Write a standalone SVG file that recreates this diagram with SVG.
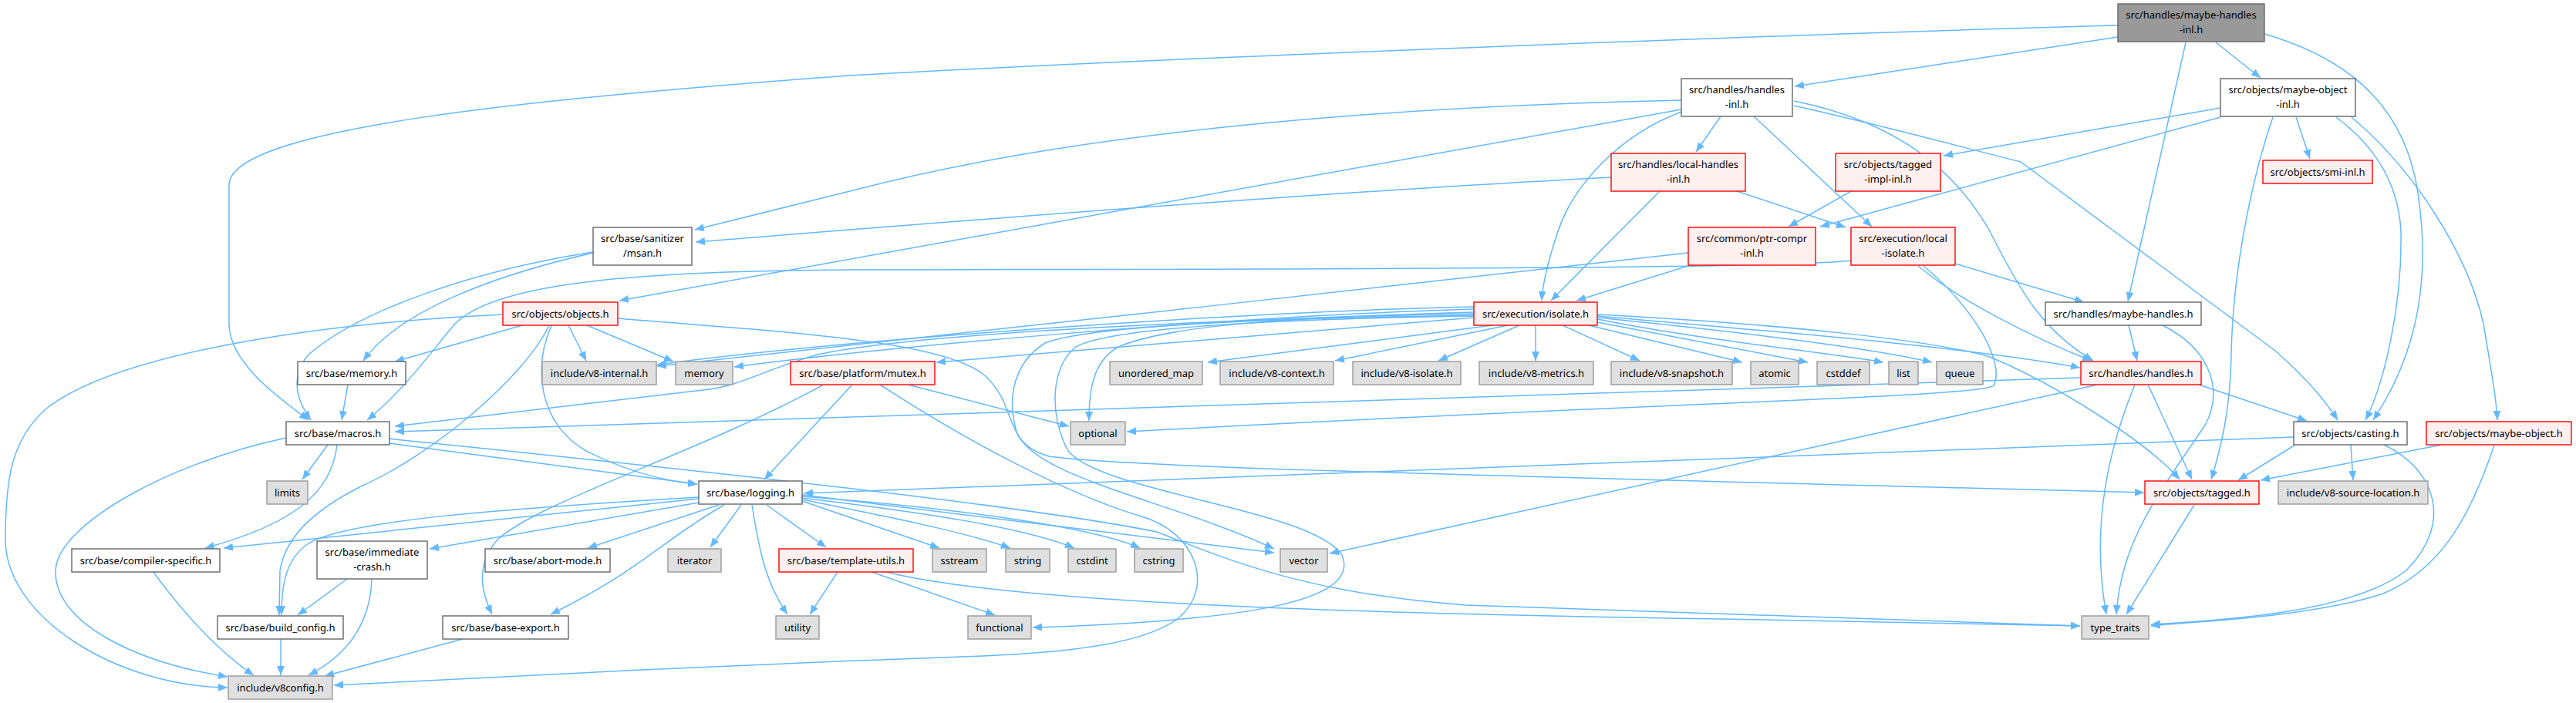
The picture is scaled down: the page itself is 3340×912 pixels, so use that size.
<svg xmlns="http://www.w3.org/2000/svg" width="3340" height="912" viewBox="0 0 3340 912">
<defs>
<marker id="ah" markerUnits="userSpaceOnUse" markerWidth="13" markerHeight="11" refX="12" refY="5" orient="auto">
<path d="M0,0 L12,5 L0,10 z" fill="#63B8FF"/>
</marker>
<style>
.e path{fill:none;stroke:#63B8FF;stroke-width:1.5;marker-end:url(#ah)}
rect{stroke-width:1.4}
.w{fill:#ffffff;stroke:#666666}
.r{fill:#FFF0F0;stroke:#FF0000}
.g{fill:#E0E0E0;stroke:#999999}
.root{fill:#999999;stroke:#666666}
text{font-family:"Noto Sans","DejaVu Sans",sans-serif;font-size:13px;fill:#000000;text-anchor:middle}
</style>
</defs>
<rect width="3340" height="912" fill="#ffffff"/>
<g id="edges" class="e">
<path d="M2746,48 L2327,112"/>
<path d="M2746,33 C2400,42 1500,75 1100,98 C700,128 297,165 297,240 L297,420 C297,470 360,515 400,545"/>
<path d="M2834,55 L2759,391"/>
<path d="M2873,55 L2931,101"/>
<path d="M2936,44 C3060,80 3120,150 3135,250 C3150,350 3140,450 3077,545"/>
<path d="M2180,130 C1800,138 1400,170 1110,246 C1030,266 960,283 901,298"/>
<path d="M2180,142 L803,390"/>
<path d="M2180,145 C2100,175 2040,240 2020,300 C2005,345 2000,370 1999,390"/>
<path d="M2231,151 L2199,197"/>
<path d="M2274,151 L2427,294"/>
<path d="M2326,131 C2470,160 2540,230 2580,300 C2620,380 2650,430 2714,468"/>
<path d="M2326,137 C2450,165 2540,190 2620,210 L2950,455 C2990,490 3015,520 3031,545"/>
<path d="M2879,140 L2520,202"/>
<path d="M2879,152 L2360,294"/>
<path d="M2977,152 L2995,206"/>
<path d="M2947,152 C2920,230 2895,350 2893,460 C2892,530 2880,580 2867,622"/>
<path d="M3029,152 C3080,190 3110,240 3113,300 C3115,400 3090,500 3067,545"/>
<path d="M3049,152 C3130,220 3200,330 3220,420 C3230,480 3237,520 3238,545"/>
<path d="M2089,230 C1700,250 1200,290 902,314"/>
<path d="M2249,247 L2393,295"/>
<path d="M2153,247 L2011,390"/>
<path d="M2402,247 L2319,294"/>
<path d="M2192,344 L2044,390"/>
<path d="M2189,328 C1800,370 1200,440 852,475"/>
<path d="M2400,338 C2300,350 1500,349 1100,350 C800,352 640,370 590,420 C560,455 525,505 476,545"/>
<path d="M2535,342 L2702,392"/>
<path d="M2487,345 C2540,390 2640,440 2712,468"/>
<path d="M2494,345 C2560,400 2600,470 2585,500 C2570,515 2200,520 1461,560"/>
<path d="M677,422 L512,469"/>
<path d="M712,422 C680,490 560,590 470,630 C400,665 370,700 363,740 L362,798"/>
<path d="M715,422 C690,480 700,550 760,585 C820,615 870,625 904,628"/>
<path d="M737,422 L760,468"/>
<path d="M761,422 L873,469"/>
<path d="M652,408 C400,420 150,460 60,530 C15,570 7,620 7,700 C7,800 150,890 295,892"/>
<path d="M801,413 C1000,430 1230,440 1280,490 C1320,530 1300,575 1360,592 C1450,605 1800,614 2780,639"/>
<path d="M769,328 C650,355 520,400 471,468"/>
<path d="M769,327 C620,350 470,400 400,460 C375,490 385,520 403,545"/>
<path d="M451,499 L443,545"/>
<path d="M1177,499 L1386,553"/>
<path d="M1105,499 L991,622"/>
<path d="M1068,499 C900,590 700,650 645,700 C615,735 625,770 638,797"/>
<path d="M1141,499 C1250,570 1380,640 1480,670 C1550,690 1575,760 1530,800 C1470,850 1300,850 1110,857 C900,865 600,880 433,889"/>
<path d="M1935,422 L1566,470"/>
<path d="M1955,422 L1731,468"/>
<path d="M1970,422 L1865,468"/>
<path d="M1991,422 L1991,468"/>
<path d="M2026,422 L2126,468"/>
<path d="M2060,422 L2259,470"/>
<path d="M2071,418 L2344,470"/>
<path d="M2071,414 C2200,440 2350,455 2442,470"/>
<path d="M2071,412 C2250,430 2420,450 2505,470"/>
<path d="M2071,410 C2300,430 2550,450 2697,477"/>
<path d="M2071,408 C2300,420 2500,440 2580,463 C2680,505 2790,580 2826,622"/>
<path d="M1911,412 L1214,470"/>
<path d="M1911,398 C1600,405 1100,440 852,473"/>
<path d="M1911,401 C1600,410 1150,450 952,476"/>
<path d="M1911,405 C1600,415 1200,430 1060,460 C990,480 960,500 920,505 L512,553"/>
<path d="M1911,407 C1700,410 1520,420 1450,450 C1415,470 1412,510 1412,546"/>
<path d="M1911,409 C1700,412 1420,420 1355,445 C1315,470 1305,515 1318,560 C1340,620 1520,650 1652,712"/>
<path d="M1911,410 C1650,414 1440,425 1395,450 C1362,475 1360,540 1385,585 C1430,640 1700,660 1740,720 C1765,780 1620,805 1339,814"/>
<path d="M2698,490 L512,560"/>
<path d="M2720,499 L1724,718"/>
<path d="M2851,499 L2991,546"/>
<path d="M2785,499 L2842,622"/>
<path d="M2768,499 C2735,580 2710,680 2731,797"/>
<path d="M2760,422 L2771,468"/>
<path d="M2804,422 C2860,450 2885,500 2860,550 C2800,640 2750,700 2744,797"/>
<path d="M425,577 L392,622"/>
<path d="M437,577 C430,640 380,680 266,711"/>
<path d="M504,575 L904,628"/>
<path d="M371,568 C220,600 75,680 72,740 C70,810 180,860 295,878"/>
<path d="M504,569 C800,600 1300,650 1500,690 C1600,730 1700,770 1900,785 L2697,812"/>
<path d="M2974,567 L1042,640"/>
<path d="M2976,577 L2902,623"/>
<path d="M3048,577 L3051,623"/>
<path d="M3091,577 C3160,610 3180,680 3120,740 C3050,795 2880,805 2789,810"/>
<path d="M3166,577 L2931,623"/>
<path d="M3234,577 C3200,680 3160,740 3090,770 C3000,800 2850,806 2789,812"/>
<path d="M2845,655 L2757,797"/>
<path d="M906,647 L290,711"/>
<path d="M906,645 C650,660 450,675 400,705 C370,725 365,760 365,798"/>
<path d="M906,652 L557,712"/>
<path d="M932,655 L762,711"/>
<path d="M939,655 C860,700 830,740 714,797"/>
<path d="M961,655 L921,710"/>
<path d="M975,655 C985,720 995,760 1021,797"/>
<path d="M994,655 L1071,710"/>
<path d="M1040,650 L1218,711"/>
<path d="M1040,648 C1150,670 1250,690 1310,711"/>
<path d="M1040,646 C1200,665 1330,685 1393,711"/>
<path d="M1040,644 C1250,660 1420,685 1478,711"/>
<path d="M1040,642 L1652,717"/>
<path d="M1086,742 L1050,797"/>
<path d="M1130,742 L1290,798"/>
<path d="M1149,742 C1300,780 1700,795 2230,803 L2697,812"/>
<path d="M199,742 C240,800 290,850 329,876"/>
<path d="M450,751 L386,798"/>
<path d="M482,751 C480,810 450,850 400,876"/>
<path d="M364,829 L364,876"/>
<path d="M600,829 L421,877"/>
</g>
<g id="n1"><rect class="root" x="2746" y="5" width="190" height="49"/><text x="2841" y="23.6">src/handles/maybe-handles</text><text x="2841" y="42.6">-inl.h</text></g>
<g id="n2"><rect class="w" x="2180" y="102" width="144" height="49"/><text x="2252" y="120.6">src/handles/handles</text><text x="2252" y="139.6">-inl.h</text></g>
<g id="n3"><rect class="w" x="2879" y="102" width="175" height="49"/><text x="2966.5" y="120.6">src/objects/maybe-object</text><text x="2966.5" y="139.6">-inl.h</text></g>
<g id="n4"><rect class="r" x="2089" y="199" width="174" height="49"/><text x="2176" y="217.6">src/handles/local-handles</text><text x="2176" y="236.6">-inl.h</text></g>
<g id="n5"><rect class="r" x="2380" y="199" width="136" height="49"/><text x="2448" y="217.6">src/objects/tagged</text><text x="2448" y="236.6">-impl-inl.h</text></g>
<g id="n6"><rect class="r" x="2934" y="208" width="142" height="30"/><text x="3005" y="227.5">src/objects/smi-inl.h</text></g>
<g id="n7"><rect class="w" x="769" y="295" width="128" height="49"/><text x="833" y="313.6">src/base/sanitizer</text><text x="833" y="332.6">/msan.h</text></g>
<g id="n8"><rect class="r" x="2189" y="295" width="165" height="49"/><text x="2271.5" y="313.6">src/common/ptr-compr</text><text x="2271.5" y="332.6">-inl.h</text></g>
<g id="n9"><rect class="r" x="2400" y="295" width="135" height="49"/><text x="2467.5" y="313.6">src/execution/local</text><text x="2467.5" y="332.6">-isolate.h</text></g>
<g id="n10"><rect class="r" x="652" y="392" width="149" height="30"/><text x="726.5" y="411.5">src/objects/objects.h</text></g>
<g id="n11"><rect class="r" x="1911" y="392" width="160" height="30"/><text x="1991" y="411.5">src/execution/isolate.h</text></g>
<g id="n12"><rect class="w" x="2652" y="392" width="202" height="30"/><text x="2753" y="411.5">src/handles/maybe-handles.h</text></g>
<g id="n13"><rect class="w" x="386" y="469" width="140" height="30"/><text x="456" y="488.5">src/base/memory.h</text></g>
<g id="n14"><rect class="g" x="703" y="469" width="148" height="30"/><text x="777" y="488.5">include/v8-internal.h</text></g>
<g id="n15"><rect class="g" x="876" y="469" width="74" height="30"/><text x="913" y="488.5">memory</text></g>
<g id="n16"><rect class="r" x="1025" y="469" width="187" height="30"/><text x="1118.5" y="488.5">src/base/platform/mutex.h</text></g>
<g id="n17"><rect class="g" x="1439" y="469" width="120" height="30"/><text x="1499" y="488.5">unordered_map</text></g>
<g id="n18"><rect class="g" x="1582" y="469" width="147" height="30"/><text x="1655.5" y="488.5">include/v8-context.h</text></g>
<g id="n19"><rect class="g" x="1754" y="469" width="140" height="30"/><text x="1824" y="488.5">include/v8-isolate.h</text></g>
<g id="n20"><rect class="g" x="1918" y="469" width="148" height="30"/><text x="1992" y="488.5">include/v8-metrics.h</text></g>
<g id="n21"><rect class="g" x="2089" y="469" width="157" height="30"/><text x="2167.5" y="488.5">include/v8-snapshot.h</text></g>
<g id="n22"><rect class="g" x="2270" y="469" width="62" height="30"/><text x="2301" y="488.5">atomic</text></g>
<g id="n23"><rect class="g" x="2356" y="469" width="68" height="30"/><text x="2390" y="488.5">cstddef</text></g>
<g id="n24"><rect class="g" x="2449" y="469" width="38" height="30"/><text x="2468" y="488.5">list</text></g>
<g id="n25"><rect class="g" x="2511" y="469" width="60" height="30"/><text x="2541" y="488.5">queue</text></g>
<g id="n26"><rect class="r" x="2698" y="469" width="156" height="30"/><text x="2776" y="488.5">src/handles/handles.h</text></g>
<g id="n27"><rect class="w" x="371" y="547" width="134" height="30"/><text x="438" y="566.5">src/base/macros.h</text></g>
<g id="n28"><rect class="g" x="1388" y="547" width="71" height="30"/><text x="1423.5" y="566.5">optional</text></g>
<g id="n29"><rect class="w" x="2974" y="547" width="147" height="30"/><text x="3047.5" y="566.5">src/objects/casting.h</text></g>
<g id="n30"><rect class="r" x="3146" y="547" width="188" height="30"/><text x="3240" y="566.5">src/objects/maybe-object.h</text></g>
<g id="n31"><rect class="g" x="346" y="624" width="53" height="30"/><text x="372.5" y="643.5">limits</text></g>
<g id="n32"><rect class="w" x="906" y="624" width="134" height="30"/><text x="973" y="643.5">src/base/logging.h</text></g>
<g id="n33"><rect class="r" x="2781" y="624" width="148" height="30"/><text x="2855" y="643.5">src/objects/tagged.h</text></g>
<g id="n34"><rect class="g" x="2954" y="624" width="194" height="30"/><text x="3051" y="643.5">include/v8-source-location.h</text></g>
<g id="n35"><rect class="w" x="93" y="712" width="192" height="30"/><text x="189" y="731.5">src/base/compiler-specific.h</text></g>
<g id="n36"><rect class="w" x="411" y="702" width="143" height="49"/><text x="482.5" y="720.6">src/base/immediate</text><text x="482.5" y="739.6">-crash.h</text></g>
<g id="n37"><rect class="w" x="629" y="712" width="162" height="30"/><text x="710" y="731.5">src/base/abort-mode.h</text></g>
<g id="n38"><rect class="g" x="866" y="712" width="69" height="30"/><text x="900.5" y="731.5">iterator</text></g>
<g id="n39"><rect class="r" x="1010" y="712" width="174" height="30"/><text x="1097" y="731.5">src/base/template-utils.h</text></g>
<g id="n40"><rect class="g" x="1209" y="712" width="70" height="30"/><text x="1244" y="731.5">sstream</text></g>
<g id="n41"><rect class="g" x="1304" y="712" width="57" height="30"/><text x="1332.5" y="731.5">string</text></g>
<g id="n42"><rect class="g" x="1385" y="712" width="62" height="30"/><text x="1416" y="731.5">cstdint</text></g>
<g id="n43"><rect class="g" x="1471" y="712" width="63" height="30"/><text x="1502.5" y="731.5">cstring</text></g>
<g id="n44"><rect class="g" x="1660" y="712" width="61" height="30"/><text x="1690.5" y="731.5">vector</text></g>
<g id="n45"><rect class="w" x="282" y="799" width="163" height="30"/><text x="363.5" y="818.5">src/base/build_config.h</text></g>
<g id="n46"><rect class="w" x="574" y="799" width="163" height="30"/><text x="655.5" y="818.5">src/base/base-export.h</text></g>
<g id="n47"><rect class="g" x="1006" y="799" width="56" height="30"/><text x="1034" y="818.5">utility</text></g>
<g id="n48"><rect class="g" x="1255" y="799" width="82" height="30"/><text x="1296" y="818.5">functional</text></g>
<g id="n49"><rect class="g" x="2699" y="799" width="87" height="30"/><text x="2742.5" y="818.5">type_traits</text></g>
<g id="n50"><rect class="g" x="296" y="877" width="135" height="30"/><text x="363.5" y="896.5">include/v8config.h</text></g>
</svg>
